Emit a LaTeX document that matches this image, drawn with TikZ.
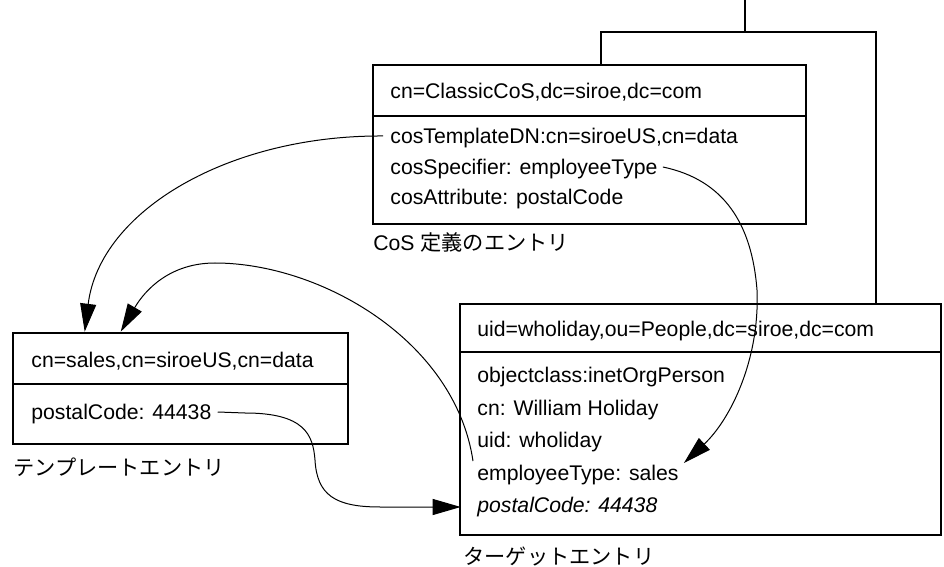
\documentclass[tikz,border=0pt]{standalone}
\usepackage{fontspec}
\setmainfont{Liberation Sans}
\newfontfamily\jp{Noto Sans CJK JP}
\usetikzlibrary{arrows.meta,fit,calc}

\begin{document}
\begin{tikzpicture}[x=0.5pt,y=-0.5pt,
  every node/.style={font=\fontsize{10.6pt}{12pt}\selectfont},
  entrybox/.style={draw,line width=1.3pt,inner sep=0pt},
  divider/.style={line width=1.3pt},
  tree/.style={line width=1.2pt},
  txt/.style={anchor=west,inner sep=0pt,text height=0.72em,text depth=0pt},
  conn/.style={line width=0.5pt,-{Triangle[length=14pt,width=8pt]}}]
\useasboundingbox (0,0) rectangle (944,567);

% ---- CoS definition entry ----
\node[entrybox,fit={(373,65) (806,224)}] (cosbox) {};
\draw[divider] (373,116) -- (806,116);
\node[txt] (cosdn)  at (390,91)  {cn=ClassicCoS,dc=siroe,dc=com};
\node[txt] (ctdn)   at (390,136) {cosTemplateDN:cn=siroeUS,cn=data};
\node[txt] (cspec)  at (390,167) {cosSpecifier: employeeType};
\node[txt] (cattr)  at (390,197) {cosAttribute: postalCode};
\node[txt] (coslbl) at (373,243) {CoS {\jp 定義のエントリ}};

% ---- template entry ----
\node[entrybox,fit={(13,333) (348,444)}] (tplbox) {};
\draw[divider] (13,384) -- (348,384);
\node[txt] (tpldn)  at (31,360) {cn=sales,cn=siroeUS,cn=data};
\node[txt] (tplpc)  at (31,412) {postalCode: 44438};
\node[txt] (tpllbl) at (13,468) {\jp テンプレートエントリ};

% ---- target entry ----
\node[entrybox,fit={(460,304) (941,535)}] (tgtbox) {};
\draw[divider] (460,352) -- (941,352);
\node[txt] (tgtdn) at (477,329) {uid=wholiday,ou=People,dc=siroe,dc=com};
\node[txt] (ocls)  at (477,375) {objectclass:inetOrgPerson};
\node[txt] (tcn)   at (477,408) {cn: William Holiday};
\node[txt] (tuid)  at (477,440) {uid: wholiday};
\node[txt] (etype) at (477,473) {employeeType: sales};
\node[txt] (tpc)   at (477,505) {\itshape postalCode: 44438};
\node[txt] (tgtlbl) at (463,557) {\jp ターゲットエントリ};

% ---- directory tree lines ----
\coordinate (root) at (745,0);
\coordinate (bus)  at (745,32);
\draw[tree] (root) -- (bus);
\draw[tree] ($(cosbox.north west)+(114.5pt,0)$) |- (bus)
            -| ($(tgtbox.north west)+(208.5pt,0)$);

% ---- attribute links ----
\coordinate (in1) at ($(tplbox.north west)+(36.5pt,0)$);
\coordinate (in2) at ($(tplbox.north west)+(54.5pt,0)$);
\coordinate (tin) at ($(etype.east)+(2.5pt,5pt)$);
\coordinate (pcin) at ($(tgtbox.west |- tpc.west)+(1pt,-1pt)$);

\draw[conn] ($(ctdn.west)+(-3.5pt,0)$)
  .. controls (230,135) and (100,210) .. (in1);
\draw[conn] ($(cspec.east)+(2.5pt,0)$)
  .. controls (725,180) and (752,225) .. (757,290)
  .. controls (760,360) and (730,420) .. (tin);
\draw[conn] ($(etype.west)+(-2pt,6pt)$)
  .. controls (455,340) and (320,263) .. (215,263)
  .. controls (170,263) and (145,290) .. (in2);
\draw[conn] ($(tplpc.east)+(3pt,0)$) -- (245,413)
  .. controls (305,413) and (313,435) .. (315,460)
  .. controls (317,495) and (335,507) .. (380,507) -- (pcin);
\end{tikzpicture}
\end{document}
